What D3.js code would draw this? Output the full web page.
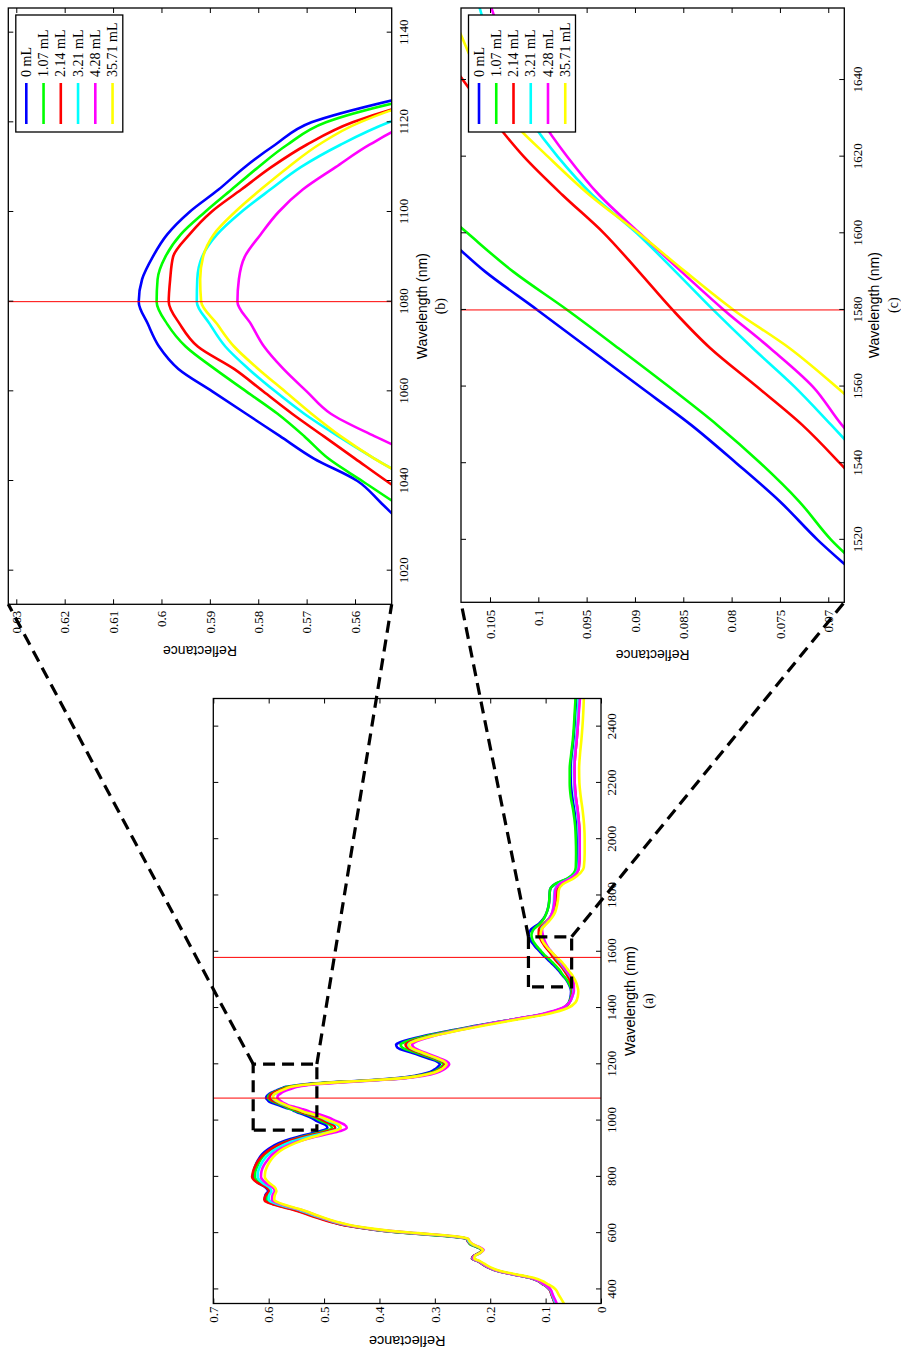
<!DOCTYPE html>
<html><head><meta charset="utf-8">
<script src="https://cdn.jsdelivr.net/npm/d3@7"></script>
<style>
html,body{margin:0;padding:0;background:#fff;}
svg{display:block;}
</style></head>
<body>
<svg id="chart" width="901" height="1352"></svg>
<script>
// ---------------- DATA ----------------
const wavelengths = [
 350,360,380,400,410,420,430,440,450,460, 470,480,500,510,520,530,540,550,560,570,
 580,590,600,610,620,630,640,660,680,700, 710,720,735,750,765,780,800,820,840,860,
 880,900,920,940,955,965,975,985,1000,1010, 1020,1025,
 1030,1035,1040,1045,1050,1055,1060,1065,1070,1075,1080,1085,1090,1095,1100,1105,1110,1115,1120,1125,1130,
 1135,1140,1145,1150,1160,1170,1180,1190,1200,1210, 1220,1240,1260,1270,1280,1300,1320,1340,1360,1380,
 1400,1420,1440,1460,1480,1500,
 1510,1520,1530,1540,1550,1560,1570,1580,1590,1600,1610,1620,1630,1640,1650,1660,
 1680,1700,1720,1740,1760,1780,1800,1820,1840,1860, 1880,1900,1950,2000,2050,2100,2150,2200,2250,2300,
 2350,2400,2450,2500
];
const refl_0mL = [
 0.083,0.085,0.089,0.093,0.098,0.106,0.113,0.126,0.150,0.176, 0.194,0.206,0.222,0.233,0.229,0.219,0.215,0.223,0.235,0.240,
 0.243,0.280,0.345,0.400,0.437,0.466,0.485,0.518,0.547,0.585, 0.600,0.607,0.606,0.601,0.607,0.620,0.628,0.627,0.624,0.619,
 0.612,0.600,0.582,0.551,0.522,0.503,0.494,0.498,0.515,0.523, 0.535,0.542,
 0.5495,0.5545,0.5595,0.5685,0.5755,0.5825,0.5895,0.5965,0.6005,0.6028,0.6047,0.6040,0.6018,0.5988,0.5942,0.5882,0.5828,0.5765,0.5690,0.5520,0.530,
 0.495,0.450,0.405,0.372,0.334,0.313,0.302,0.295,0.291,0.296, 0.310,0.340,0.368,0.370,0.360,0.322,0.272,0.218,0.157,0.100,
 0.068,0.058,0.055,0.054,0.057,0.0625,
 0.0667,0.0711,0.0750,0.0795,0.0842,0.0895,0.0948,0.1001,0.1055,0.1100,0.1150,0.1195,0.1235,0.1268,0.1292,0.1308,
 0.1260,0.1120,0.1030,0.0980,0.0950,0.0935,0.0930,0.0920,0.0830,0.0600, 0.0480,0.0440,0.0435,0.0440,0.0450,0.0480,0.0520,0.0545,0.0550,0.0530,
 0.0500,0.0480,0.0465,0.0450
];
const refl_107mL = [
 0.082,0.084,0.088,0.092,0.097,0.105,0.112,0.124,0.148,0.174, 0.192,0.204,0.220,0.230,0.228,0.220,0.214,0.224,0.236,0.239,
 0.242,0.283,0.347,0.400,0.436,0.465,0.484,0.516,0.545,0.582, 0.597,0.603,0.603,0.598,0.604,0.617,0.625,0.624,0.620,0.615,
 0.607,0.594,0.576,0.544,0.514,0.495,0.486,0.490,0.507,0.516, 0.528,0.536,
 0.5440,0.5515,0.5585,0.5655,0.5705,0.5760,0.5825,0.5890,0.5950,0.5988,0.6010,0.6008,0.5992,0.5960,0.5910,0.5855,0.5800,0.5740,0.5660,0.5490,0.525,
 0.490,0.445,0.400,0.366,0.328,0.307,0.296,0.289,0.285,0.290, 0.303,0.332,0.359,0.362,0.353,0.317,0.268,0.215,0.156,0.100,
 0.068,0.058,0.054,0.053,0.056,0.0615,
 0.0655,0.0697,0.0730,0.0770,0.0815,0.0865,0.0917,0.0970,0.1026,0.1073,0.1118,0.1162,0.1200,0.1230,0.1248,0.1255,
 0.1215,0.1100,0.1025,0.0980,0.0950,0.0935,0.0930,0.0920,0.0835,0.0610, 0.0490,0.0455,0.0450,0.0455,0.0468,0.0500,0.0545,0.0565,0.0565,0.0540,
 0.0510,0.0490,0.0475,0.0460
];
const refl_214mL = [
 0.083,0.085,0.089,0.093,0.098,0.106,0.113,0.126,0.150,0.176, 0.194,0.206,0.222,0.233,0.229,0.219,0.214,0.222,0.234,0.240,
 0.243,0.278,0.343,0.400,0.438,0.468,0.488,0.521,0.550,0.588, 0.603,0.608,0.605,0.599,0.606,0.621,0.630,0.628,0.624,0.618,
 0.609,0.595,0.575,0.541,0.509,0.489,0.480,0.484,0.501,0.511, 0.524,0.532,
 0.5400,0.5465,0.5535,0.5600,0.5665,0.5730,0.5790,0.5850,0.5925,0.5962,0.5985,0.5982,0.5976,0.5942,0.5897,0.5835,0.5773,0.5700,0.5605,0.5450,0.522,
 0.488,0.443,0.398,0.363,0.325,0.304,0.293,0.286,0.282,0.286, 0.298,0.326,0.350,0.353,0.345,0.311,0.264,0.213,0.156,0.101,
 0.068,0.057,0.053,0.051,0.0535,0.0565,
 0.0592,0.0620,0.0652,0.0688,0.0727,0.0774,0.0822,0.0861,0.0896,0.0932,0.0975,0.1015,0.1048,0.1078,0.1105,0.1125,
 0.1120,0.1030,0.0930,0.0870,0.0840,0.0820,0.0810,0.0800,0.0730,0.0560, 0.0440,0.0400,0.0385,0.0385,0.0395,0.0420,0.0455,0.0475,0.0480,0.0465,
 0.0440,0.0420,0.0405,0.0395
];
const refl_321mL = [
 0.082,0.084,0.088,0.092,0.097,0.105,0.112,0.125,0.149,0.175, 0.193,0.205,0.221,0.232,0.228,0.218,0.213,0.221,0.233,0.239,
 0.242,0.276,0.340,0.396,0.433,0.462,0.482,0.514,0.542,0.579, 0.594,0.600,0.599,0.595,0.600,0.612,0.620,0.619,0.615,0.609,
 0.600,0.586,0.566,0.533,0.501,0.481,0.472,0.476,0.494,0.504, 0.517,0.526,
 0.5340,0.5410,0.5480,0.5560,0.5635,0.5705,0.5765,0.5820,0.5868,0.5900,0.5927,0.5926,0.5916,0.5885,0.5835,0.5775,0.5712,0.5630,0.5530,0.5390,0.515,
 0.482,0.438,0.394,0.360,0.322,0.301,0.290,0.283,0.279,0.283, 0.295,0.322,0.345,0.348,0.341,0.308,0.262,0.212,0.156,0.102,
 0.069,0.057,0.052,0.050,0.051,0.0525,
 0.0550,0.0585,0.0622,0.0660,0.0697,0.0735,0.0778,0.0819,0.0858,0.0898,0.0944,0.0980,0.1010,0.1035,0.1050,0.1062,
 0.1080,0.1010,0.0930,0.0880,0.0860,0.0850,0.0845,0.0835,0.0760,0.0570, 0.0450,0.0410,0.0395,0.0395,0.0405,0.0430,0.0465,0.0485,0.0490,0.0475,
 0.0450,0.0430,0.0415,0.0405
];
const refl_428mL = [
 0.080,0.082,0.087,0.091,0.096,0.104,0.111,0.124,0.148,0.174, 0.192,0.204,0.220,0.231,0.228,0.218,0.212,0.219,0.231,0.237,
 0.240,0.272,0.336,0.392,0.430,0.459,0.479,0.510,0.537,0.573, 0.588,0.594,0.593,0.589,0.594,0.606,0.614,0.613,0.609,0.602,
 0.593,0.578,0.556,0.521,0.488,0.468,0.459,0.463,0.480,0.491, 0.505,0.514,
 0.5230,0.5300,0.5380,0.5460,0.5560,0.5650,0.5700,0.5748,0.5788,0.5815,0.5843,0.5840,0.5828,0.5795,0.5758,0.5708,0.5640,0.5570,0.5480,0.5330,0.508,
 0.476,0.434,0.391,0.357,0.318,0.297,0.285,0.278,0.274,0.278, 0.290,0.316,0.338,0.341,0.335,0.304,0.260,0.212,0.157,0.104,
 0.070,0.057,0.052,0.049,0.049,0.0505,
 0.0540,0.0575,0.0612,0.0650,0.0686,0.0716,0.0760,0.0808,0.0852,0.0895,0.0937,0.0970,0.0998,0.1020,0.1036,0.1050,
 0.1065,0.1000,0.0925,0.0880,0.0855,0.0840,0.0835,0.0825,0.0750,0.0560, 0.0440,0.0400,0.0385,0.0385,0.0395,0.0420,0.0455,0.0475,0.0480,0.0465,
 0.0440,0.0420,0.0400,0.0380
];
const refl_3571mL = [
 0.067,0.070,0.076,0.082,0.088,0.097,0.106,0.119,0.143,0.170, 0.189,0.201,0.218,0.229,0.227,0.218,0.213,0.220,0.231,0.237,
 0.240,0.268,0.330,0.388,0.427,0.456,0.476,0.508,0.535,0.570, 0.584,0.590,0.589,0.586,0.590,0.600,0.607,0.606,0.602,0.596,
 0.587,0.573,0.552,0.524,0.497,0.479,0.470,0.473,0.490,0.502, 0.516,0.525,
 0.5350,0.5415,0.5480,0.5560,0.5630,0.5690,0.5745,0.5800,0.5850,0.5885,0.5918,0.5920,0.5914,0.5892,0.5848,0.5795,0.5738,0.5675,0.5590,0.5450,0.520,
 0.487,0.443,0.398,0.363,0.324,0.302,0.290,0.283,0.279,0.283, 0.294,0.321,0.344,0.347,0.340,0.306,0.258,0.206,0.149,0.094,
 0.060,0.046,0.042,0.041,0.043,0.0470,
 0.0500,0.0530,0.0572,0.0612,0.0648,0.0692,0.0740,0.0798,0.0848,0.0896,0.0947,0.0990,0.1030,0.1058,0.1077,0.1090,
 0.1070,0.0980,0.0890,0.0830,0.0800,0.0780,0.0770,0.0760,0.0690,0.0500, 0.0370,0.0310,0.0295,0.0295,0.0305,0.0330,0.0365,0.0390,0.0395,0.0380,
 0.0355,0.0335,0.0320,0.0310
];
const seriesNames  = ["0 mL","1.07 mL","2.14 mL","3.21 mL","4.28 mL","35.71 mL"];
const seriesValues = [refl_0mL, refl_107mL, refl_214mL, refl_321mL, refl_428mL, refl_3571mL];
const seriesColors = ["#0000ff","#00ff00","#ff0000","#00ffff","#ff00ff","#ffff00"];
const markerWavelengths = [1080, 1580];

const ticksA_wl = [400,600,800,1000,1200,1400,1600,1800,2000,2200,2400];
const ticksA_r  = [0,0.1,0.2,0.3,0.4,0.5,0.6,0.7];
const ticksB_wl = [1020,1040,1060,1080,1100,1120,1140];
const ticksB_r  = [0.56,0.57,0.58,0.59,0.6,0.61,0.62,0.63];
const ticksC_wl = [1520,1540,1560,1580,1600,1620,1640];
const ticksC_r  = [0.07,0.075,0.08,0.085,0.09,0.095,0.1,0.105];

// zoom windows drawn in panel (a): [wlMin, wlMax, rMin, rMax]
const zoomBoxB = [966, 1201, 0.513, 0.628];
const zoomBoxC = [1475, 1653, 0.053, 0.131];

// ---------------- LAYOUT (unrotated figure, 1352 x 901) ----------------
const svg = d3.select("#chart");
const root = svg.append("g").attr("transform","translate(0,1352) rotate(-90)");
const SERIF = "'Liberation Serif','Times New Roman',serif";
const SANS  = "'Liberation Sans',Arial,sans-serif";

const rows = d3.range(Math.min(wavelengths.length, ...seriesValues.map(a=>a.length)));

function panel(cfg){
  const g = root.append("g");
  const x = d3.scaleLinear().domain(cfg.wl).range([cfg.X0, cfg.X1]);
  const y = d3.scaleLinear().domain(cfg.r).range([cfg.Y1, cfg.Y0]);
  const clipId = "clip_" + cfg.id;
  g.append("clipPath").attr("id", clipId).append("rect")
    .attr("x", cfg.X0).attr("y", cfg.Y0).attr("width", cfg.X1-cfg.X0).attr("height", cfg.Y1-cfg.Y0);
  g.append("rect").attr("x", cfg.X0).attr("y", cfg.Y0).attr("width", cfg.X1-cfg.X0).attr("height", cfg.Y1-cfg.Y0)
    .attr("fill","#fff");

  const line = d3.line().x(i=>x(wavelengths[i])).curve(d3.curveMonotoneX);
  const plot = g.append("g").attr("clip-path", `url(#${clipId})`);
  seriesValues.forEach((vals, k) => {
    plot.append("path").datum(rows)
      .attr("d", line.y(i=>y(vals[i])))
      .attr("fill","none").attr("stroke", seriesColors[k])
      .attr("stroke-width", cfg.lw).attr("stroke-linejoin","round");
  });
  markerWavelengths.filter(m => m>=cfg.wl[0] && m<=cfg.wl[1]).forEach(m => {
    plot.append("line").attr("x1", x(m)).attr("x2", x(m)).attr("y1", cfg.Y0).attr("y2", cfg.Y1)
      .attr("stroke","#ff0000").attr("stroke-width",1);
  });

  // axes (inward ticks on all four sides)
  const fmt = v => String(+v.toFixed(4));
  const bottom = g.append("g").attr("transform",`translate(0,${cfg.Y1})`)
    .call(d3.axisBottom(x).tickValues(cfg.wlTicks).tickSize(-5).tickSizeOuter(0).tickPadding(cfg.padW).tickFormat(d3.format("d")));
  const top = g.append("g").attr("transform",`translate(0,${cfg.Y0})`)
    .call(d3.axisTop(x).tickValues(cfg.wlTicks).tickSize(-5).tickSizeOuter(0).tickFormat(""));
  const left = g.append("g").attr("transform",`translate(${cfg.X0},0)`)
    .call(d3.axisLeft(y).tickValues(cfg.rTicks).tickSize(-5).tickSizeOuter(0).tickPadding(cfg.padR).tickFormat(fmt));
  const right = g.append("g").attr("transform",`translate(${cfg.X1},0)`)
    .call(d3.axisRight(y).tickValues(cfg.rTicks).tickSize(-5).tickSizeOuter(0).tickFormat(""));
  [bottom, top, left, right].forEach(a => {
    a.select(".domain").remove();
    a.selectAll(".tick line").attr("stroke","#000").attr("stroke-width",1);
    a.selectAll("text").attr("font-family", SERIF).attr("font-size", 13).attr("fill","#000");
  });
  g.append("rect").attr("x", cfg.X0).attr("y", cfg.Y0).attr("width", cfg.X1-cfg.X0).attr("height", cfg.Y1-cfg.Y0)
    .attr("fill","none").attr("stroke","#000").attr("stroke-width",1.3);

  // labels
  const cx = (cfg.X0+cfg.X1)/2, cy = (cfg.Y0+cfg.Y1)/2;
  g.append("text").attr("x", cx).attr("y", cfg.wlLabelY).attr("text-anchor","middle")
    .attr("dominant-baseline","central").attr("font-family", SANS).attr("font-size", cfg.labelSize).text("Wavelength (nm)");
  g.append("text").attr("x", cx).attr("y", cfg.tagY).attr("text-anchor","middle")
    .attr("dominant-baseline","central").attr("font-family", SERIF).attr("font-size", 14).text(cfg.tag);
  g.append("text").attr("transform",`translate(${cfg.rLabelX},${cy}) rotate(-90)`).attr("text-anchor","middle")
    .attr("dominant-baseline","central").attr("font-family", SANS).attr("font-size", cfg.labelSize).text("Reflectance");

  // legend
  if (cfg.legend){
    const L = g.append("g");
    const lx1 = cfg.X1 - 7, lx0 = lx1 - 117, ly0 = cfg.Y0 + 7.5, ly1 = ly0 + 107;
    L.append("rect").attr("x", lx0).attr("y", ly0).attr("width", lx1-lx0).attr("height", ly1-ly0)
      .attr("fill","#fff").attr("stroke","#000").attr("stroke-width",1.3);
    seriesNames.forEach((name,k) => {
      const ry = ly0 + 10.5 + k*17.25;
      L.append("line").attr("x1", lx0+8).attr("x2", lx0+49).attr("y1", ry).attr("y2", ry)
        .attr("stroke", seriesColors[k]).attr("stroke-width", 2.6);
      L.append("text").attr("x", lx0+55).attr("y", ry).attr("dominant-baseline","central")
        .attr("font-family", SERIF).attr("font-size", 14).text(name);
    });
  }
  return {x, y, cfg};
}

const pA = panel({id:"a", X0:48.5, X1:653.5, Y0:213.3, Y1:601, wl:[350,2500], r:[0,0.7],
  wlTicks:ticksA_wl, rTicks:ticksA_r, padW:6, padR:3, lw:2.6, labelSize:14.5,
  wlLabelY:630, tagY:648, tag:"(a)", rLabelX:11, legend:false});
const pB = panel({id:"b", X0:747.7, X1:1344, Y0:8.3, Y1:391.7, wl:[1012.5,1145.5], r:[0.55242,0.63165],
  wlTicks:ticksB_wl, rTicks:ticksB_r, padW:7, padR:6.5, lw:2.6, labelSize:14,
  wlLabelY:421.5, tagY:440, tag:"(b)", rLabelX:701, legend:true});
const pC = panel({id:"c", X0:749.7, X1:1344, Y0:461, Y1:844.3, wl:[1503.7,1658.8], r:[0.06834,0.1080],
  wlTicks:ticksC_wl, rTicks:ticksC_r, padW:8, padR:7.5, lw:2.6, labelSize:14,
  wlLabelY:874, tagY:893, tag:"(c)", rLabelX:697, legend:true});

// dashed zoom boxes and connectors
const dash = root.append("g").attr("fill","none").attr("stroke","#000").attr("stroke-width",3.2)
  .attr("stroke-dasharray","12,7");
function zoomBox(box, target){
  const [w0,w1,r0,r1] = box;
  const X0 = pA.x(w0), X1 = pA.x(w1), Ytop = pA.y(r1), Ybot = pA.y(r0);
  dash.append("rect").attr("x", X0).attr("y", Ytop).attr("width", X1-X0).attr("height", Ybot-Ytop);
  const t = target.cfg;
  dash.append("line").attr("x1", X1).attr("y1", Ytop).attr("x2", t.X0).attr("y2", t.Y0);
  dash.append("line").attr("x1", X1).attr("y1", Ybot).attr("x2", t.X0).attr("y2", t.Y1);
}
zoomBox(zoomBoxB, pB);
zoomBox(zoomBoxC, pC);
</script>
</body></html>
